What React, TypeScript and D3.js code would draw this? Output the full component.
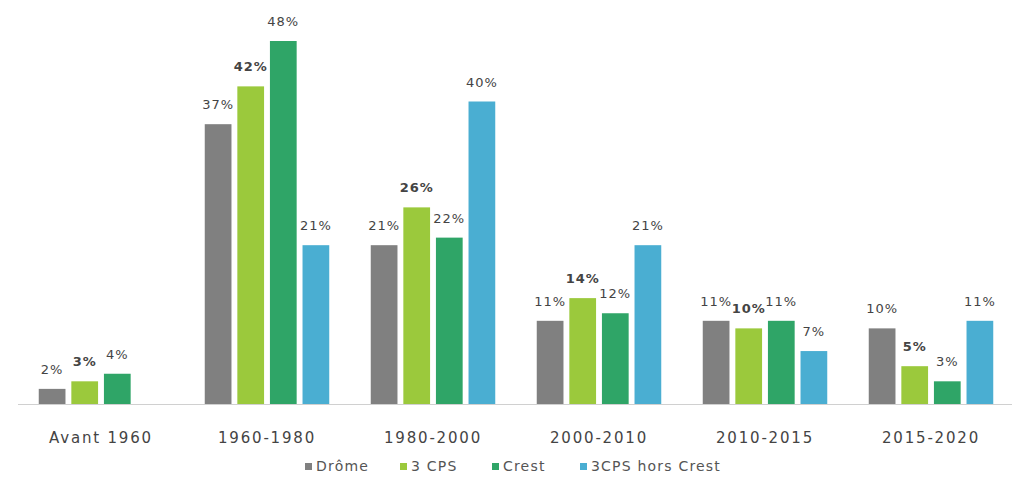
import React, { useRef, useEffect } from 'react';
import * as d3 from 'd3';

const categories = ['Avant 1960', '1960-1980', '1980-2000', '2000-2010', '2010-2015', '2015-2020'];
const seriesNames = ['Drôme', '3 CPS', 'Crest', '3CPS hors Crest'];
const drome = [2, 37, 21, 11, 11, 10];
const cps = [3, 42, 26, 14, 10, 5];
const crest = [4, 48, 22, 12, 11, 3];
const horsCrest = [null, 21, 40, 21, 7, 11];
const colors = ['#808080', '#9bc93c', '#2fa567', '#4aaed2'];

const App: React.FC = () => {
  const svgRef = useRef<SVGSVGElement | null>(null);
  const width = 1026;
  const height = 486;

  useEffect(() => {
    const svg = d3.select(svgRef.current)
      .attr('width', width)
      .attr('height', height)
      .style('display', 'block')
      .style('background', '#ffffff');

    const font = '"DejaVu Sans", sans-serif';
    const allSeries = [drome, cps, crest, horsCrest];
    const baseY = 404;

    const x0 = d3.scaleBand()
      .domain(categories)
      .range([18, 1014])
      .paddingInner(0.25)
      .paddingOuter(0.125);

    const x1 = d3.scaleBand()
      .domain(seriesNames)
      .range([0, x0.bandwidth()])
      .paddingInner(0.18)
      .paddingOuter(0);

    const y = d3.scaleLinear()
      .domain([0, 48])
      .range([baseY, 41]);

    // axe horizontal
    svg.append('line')
      .attr('x1', 18)
      .attr('x2', 1012)
      .attr('y1', baseY + 0.5)
      .attr('y2', baseY + 0.5)
      .attr('stroke', '#d0d0d0')
      .attr('stroke-width', 1);

    const bars: { cat: string; key: string; value: number; i: number }[] = [];
    categories.forEach((cat, ci) => {
      seriesNames.forEach((key, si) => {
        const v = allSeries[si][ci];
        if (v !== null && v !== undefined) bars.push({ cat, key, value: v, i: si });
      });
    });

    svg.selectAll('rect.bar')
      .data(bars)
      .enter()
      .append('rect')
      .attr('class', 'bar')
      .attr('x', d => x0(d.cat)! + x1(d.key)!)
      .attr('y', d => y(d.value))
      .attr('width', x1.bandwidth())
      .attr('height', d => baseY - y(d.value))
      .attr('fill', d => colors[d.i]);

    svg.selectAll('text.val')
      .data(bars)
      .enter()
      .append('text')
      .attr('class', 'val')
      .attr('x', d => x0(d.cat)! + x1(d.key)! + x1.bandwidth() / 2)
      .attr('y', d => y(d.value) - 15)
      .attr('text-anchor', 'middle')
      .style('font-family', font)
      .style('font-size', '13px')
      .style('letter-spacing', '1px')
      .style('font-weight', d => (d.i === 1 ? 'bold' : 'normal'))
      .style('fill', '#444444')
      .text(d => `${d.value}%`);

    // libellés des catégories
    svg.selectAll('text.cat')
      .data(categories)
      .enter()
      .append('text')
      .attr('class', 'cat')
      .attr('x', d => x0(d)! + x0.bandwidth() / 2)
      .attr('y', 443)
      .attr('text-anchor', 'middle')
      .style('font-family', font)
      .style('font-size', '15px')
      .style('letter-spacing', '1.8px')
      .style('fill', '#444444')
      .text(d => d);

    // légende
    const legendX = [305, 400, 492, 580];
    const legend = svg.append('g');
    legend.selectAll('rect')
      .data(seriesNames)
      .enter()
      .append('rect')
      .attr('x', (d, i) => legendX[i])
      .attr('y', 463)
      .attr('width', 7)
      .attr('height', 7)
      .style('fill', (d, i) => colors[i]);

    legend.selectAll('text')
      .data(seriesNames)
      .enter()
      .append('text')
      .attr('x', (d, i) => legendX[i] + 11)
      .attr('y', 471)
      .style('font-family', font)
      .style('font-size', '14px')
      .style('letter-spacing', '1.2px')
      .style('fill', '#555555')
      .text(d => d);

    return () => {
      svg.selectAll('*').remove();
    };
  }, []);

  return (
    <div style={{ margin: -8 }}>
      <svg ref={svgRef}></svg>
    </div>
  );
};

export default App;
